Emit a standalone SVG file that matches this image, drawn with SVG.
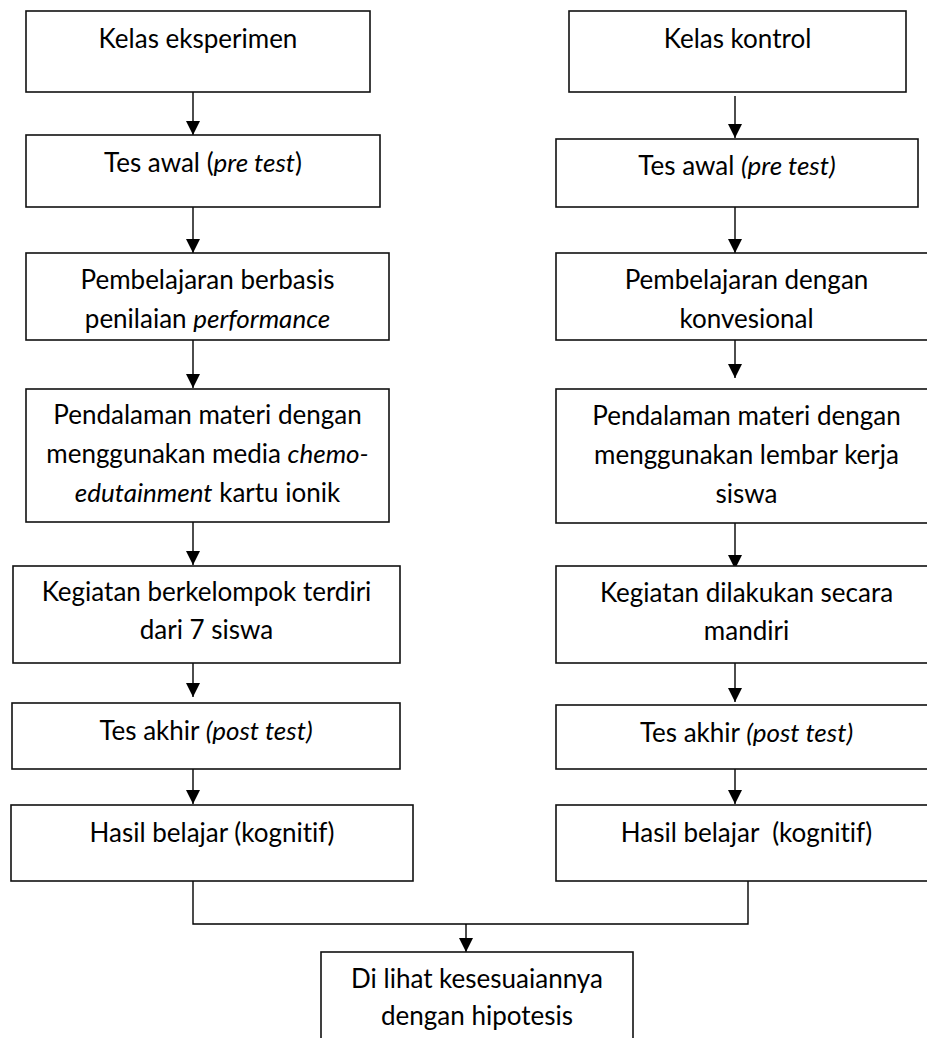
<svg xmlns="http://www.w3.org/2000/svg" width="927" height="1038" viewBox="0 0 927 1038">
<style>
.box{fill:#fff;stroke:#111;stroke-width:1.6}
.t{font-family:Lato,"Liberation Sans",sans-serif;font-size:26px;fill:#000;text-anchor:middle;font-variant-ligatures:none}
.i{font-style:italic}
.c{fill:none;stroke:#000;stroke-width:1.4}
</style>
<defs>
<marker id="ah" markerUnits="userSpaceOnUse" markerWidth="14" markerHeight="14" viewBox="0 0 14 14" refX="14" refY="7" orient="auto">
<path d="M0,0 L14,7 L0,14 z" fill="#000"/>
</marker>
</defs>
<rect width="927" height="1038" fill="#fff"/>
<g id="connectors">
<line class="c" x1="193" y1="92" x2="193" y2="135" marker-end="url(#ah)"/>
<line class="c" x1="193" y1="207" x2="193" y2="253" marker-end="url(#ah)"/>
<line class="c" x1="193" y1="340" x2="193" y2="388" marker-end="url(#ah)"/>
<line class="c" x1="193" y1="522" x2="193" y2="565" marker-end="url(#ah)"/>
<line class="c" x1="193" y1="663" x2="193" y2="697" marker-end="url(#ah)"/>
<line class="c" x1="193" y1="769" x2="193" y2="804" marker-end="url(#ah)"/>
<line class="c" x1="735" y1="96" x2="735" y2="138" marker-end="url(#ah)"/>
<line class="c" x1="735" y1="207" x2="735" y2="253" marker-end="url(#ah)"/>
<line class="c" x1="735" y1="340" x2="735" y2="378" marker-end="url(#ah)"/>
<line class="c" x1="735" y1="523" x2="735" y2="569" marker-end="url(#ah)"/>
<line class="c" x1="735" y1="663" x2="735" y2="702" marker-end="url(#ah)"/>
<line class="c" x1="735" y1="766" x2="735" y2="804" marker-end="url(#ah)"/>
<polyline class="c" points="193,881 193,924 748,924 748,881"/>
<line class="c" x1="466" y1="924" x2="466" y2="952" marker-end="url(#ah)"/>
</g>
<g id="n-kelas-eksperimen">
<rect class="box" x="26" y="11" width="344" height="81"/>
<text class="t" x="198" y="48">Kelas eksperimen</text>
</g>
<g id="n-tes-awal-l">
<rect class="box" x="26" y="135" width="354" height="72"/>
<text class="t" x="203" y="172">Tes awal (<tspan class="i">pre test</tspan>)</text>
</g>
<g id="n-pembelajaran-l">
<rect class="box" x="26" y="253" width="363" height="87"/>
<text class="t" x="207.5" y="289">Pembelajaran berbasis</text>
<text class="t" x="207.5" y="328">penilaian <tspan class="i">performance</tspan></text>
</g>
<g id="n-pendalaman-l">
<rect class="box" x="26" y="389" width="363" height="133"/>
<text class="t" x="207.5" y="424">Pendalaman materi dengan</text>
<text class="t" x="207.5" y="463">menggunakan media <tspan class="i">chemo-</tspan></text>
<text class="t" x="207.5" y="502"><tspan class="i">edutainment</tspan> kartu ionik</text>
</g>
<g id="n-kegiatan-l">
<rect class="box" x="13" y="566" width="387" height="97"/>
<text class="t" x="206.5" y="601">Kegiatan berkelompok terdiri</text>
<text class="t" x="206.5" y="639">dari 7 siswa</text>
</g>
<g id="n-tes-akhir-l">
<rect class="box" x="12" y="703" width="388" height="66"/>
<text class="t" x="206" y="740">Tes akhir <tspan class="i">(post test)</tspan></text>
</g>
<g id="n-hasil-l">
<rect class="box" x="11" y="805" width="402" height="76"/>
<text class="t" x="212" y="842">Hasil belajar (kognitif)</text>
</g>
<g id="n-kelas-kontrol">
<rect class="box" x="569" y="11" width="337" height="81"/>
<text class="t" x="737.5" y="48">Kelas kontrol</text>
</g>
<g id="n-tes-awal-r">
<rect class="box" x="556" y="139" width="362" height="68"/>
<text class="t" x="737" y="175">Tes awal <tspan class="i">(pre test)</tspan></text>
</g>
<g id="n-pembelajaran-r">
<rect class="box" x="556" y="253" width="381" height="87"/>
<text class="t" x="746.5" y="289">Pembelajaran dengan</text>
<text class="t" x="746.5" y="328">konvesional</text>
</g>
<g id="n-pendalaman-r">
<rect class="box" x="556" y="389" width="381" height="134"/>
<text class="t" x="746.5" y="425">Pendalaman materi dengan</text>
<text class="t" x="746.5" y="464">menggunakan lembar kerja</text>
<text class="t" x="746.5" y="503">siswa</text>
</g>
<g id="n-kegiatan-r">
<rect class="box" x="556" y="566" width="381" height="97"/>
<text class="t" x="746.5" y="602">Kegiatan dilakukan secara</text>
<text class="t" x="746.5" y="640">mandiri</text>
</g>
<g id="n-tes-akhir-r">
<rect class="box" x="556" y="705" width="381" height="64"/>
<text class="t" x="746.5" y="742">Tes akhir <tspan class="i">(post test)</tspan></text>
</g>
<g id="n-hasil-r">
<rect class="box" x="556" y="805" width="381" height="76"/>
<text class="t" x="746.5" y="842" xml:space="preserve">Hasil belajar  (kognitif)</text>
</g>
<g id="n-hipotesis">
<rect class="box" x="321" y="952" width="312" height="100"/>
<text class="t" x="477" y="988">Di lihat kesesuaiannya</text>
<text class="t" x="477" y="1025">dengan hipotesis</text>
</g>
</svg>
